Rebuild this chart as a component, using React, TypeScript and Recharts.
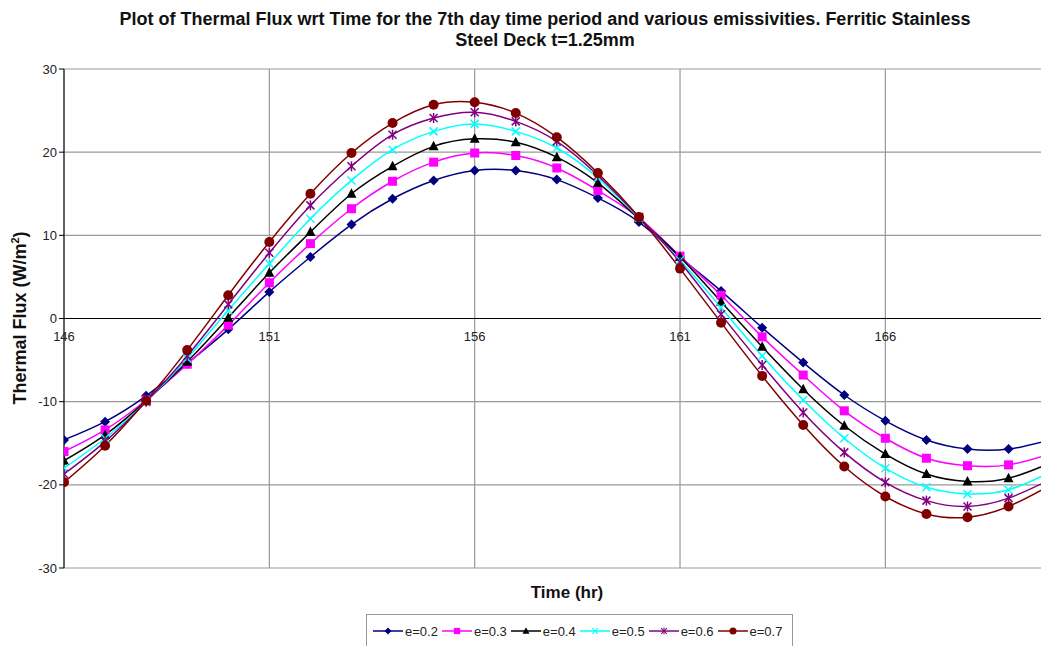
import { LineChart, Line, XAxis, YAxis, CartesianGrid, ReferenceLine } from 'recharts';

const hours = [146, 147, 148, 149, 150, 151, 152, 153, 154, 155, 156, 157, 158, 159, 160, 161, 162, 163, 164, 165, 166, 167, 168, 169, 170];

const e02 = [-14.6, -12.4, -9.3, -5.4, -1.3, 3.2, 7.4, 11.3, 14.4, 16.6, 17.8, 17.8, 16.7, 14.5, 11.6, 7.4, 3.3, -1.1, -5.3, -9.2, -12.3, -14.6, -15.7, -15.7, -14.6];
const e03 = [-16.0, -13.4, -9.8, -5.5, -0.8, 4.3, 9.0, 13.2, 16.5, 18.8, 19.9, 19.6, 18.1, 15.4, 12.1, 7.5, 2.8, -2.2, -6.8, -11.1, -14.4, -16.8, -17.7, -17.6, -16.3];
const e04 = [-17.1, -14.0, -9.9, -5.2, 0.1, 5.5, 10.4, 15.0, 18.3, 20.7, 21.6, 21.2, 19.4, 16.3, 12.0, 7.4, 2.0, -3.4, -8.5, -12.9, -16.3, -18.7, -19.6, -19.2, -17.4];
const e05 = [-18.0, -14.4, -10.0, -4.8, 1.0, 6.6, 12.0, 16.6, 20.3, 22.5, 23.4, 22.5, 20.5, 16.9, 12.1, 7.0, 1.3, -4.5, -9.8, -14.4, -18.0, -20.3, -21.1, -20.6, -18.5];
const e06 = [-18.7, -14.8, -10.0, -4.5, 1.7, 7.9, 13.6, 18.3, 22.1, 24.1, 24.8, 23.7, 21.3, 17.2, 12.2, 6.8, 0.5, -5.6, -11.3, -16.1, -19.7, -21.9, -22.6, -21.6, -19.4];
const e07 = [-19.7, -15.3, -9.9, -3.8, 2.8, 9.2, 15.0, 19.9, 23.5, 25.7, 26.0, 24.7, 21.8, 17.5, 12.2, 6.0, -0.5, -6.9, -12.8, -17.8, -21.4, -23.5, -23.9, -22.6, -20.1];

const xTicks = [146, 151, 156, 161, 166];
const yTicks = [-30, -20, -10, 0, 10, 20, 30];

const series = [
  { key: 'e02', name: 'e=0.2', color: '#000080', shape: 'diamond', values: e02 },
  { key: 'e03', name: 'e=0.3', color: '#FF00FF', shape: 'square', values: e03 },
  { key: 'e04', name: 'e=0.4', color: '#000000', shape: 'triangle', values: e04 },
  { key: 'e05', name: 'e=0.5', color: '#00FFFF', shape: 'cross', values: e05 },
  { key: 'e06', name: 'e=0.6', color: '#800080', shape: 'star', values: e06 },
  { key: 'e07', name: 'e=0.7', color: '#800000', shape: 'circle', values: e07 },
];

const data = hours.map((h, i) => {
  const row: Record<string, number> = { hour: h };
  series.forEach((s) => { row[s.key] = s.values[i]; });
  return row;
});

const FONT = 'Arial, "Liberation Sans", sans-serif';
const W = 1041;
const H = 646;
const MARGIN = { top: 69, right: 0, left: 24, bottom: 48 };
const XAXIS_H = 30;
const PLOT_H = H - MARGIN.top - MARGIN.bottom - XAXIS_H;

function Marker({ shape, color, cx, cy }: { shape: string; color: string; cx: number; cy: number }) {
  if (cx == null || cy == null || isNaN(cx) || isNaN(cy)) return null;
  switch (shape) {
    case 'diamond':
      return <polygon points={`${cx},${cy - 5} ${cx + 5},${cy} ${cx},${cy + 5} ${cx - 5},${cy}`} fill={color} />;
    case 'square':
      return <rect x={cx - 4.5} y={cy - 4.5} width={9} height={9} fill={color} />;
    case 'triangle':
      return <polygon points={`${cx},${cy - 5.5} ${cx + 5},${cy + 4} ${cx - 5},${cy + 4}`} fill={color} />;
    case 'cross':
      return (
        <g stroke={color} strokeWidth={1.5}>
          <line x1={cx - 4} y1={cy - 4} x2={cx + 4} y2={cy + 4} />
          <line x1={cx - 4} y1={cy + 4} x2={cx + 4} y2={cy - 4} />
        </g>
      );
    case 'star':
      return (
        <g stroke={color} strokeWidth={1.5}>
          <line x1={cx - 4} y1={cy - 4} x2={cx + 4} y2={cy + 4} />
          <line x1={cx - 4} y1={cy + 4} x2={cx + 4} y2={cy - 4} />
          <line x1={cx} y1={cy - 5} x2={cx} y2={cy + 5} />
        </g>
      );
    default:
      return <circle cx={cx} cy={cy} r={5} fill={color} />;
  }
}

// tick labels sit just under the zero line, not under the plot
const XTick = ({ x, payload }: any) => (
  <text x={x} y={MARGIN.top + PLOT_H / 2 + 22} textAnchor="middle" fontSize={13} fontFamily={FONT} fill="#222">
    {payload.value}
  </text>
);

const LegendBox = () => (
  <div
    style={{
      position: 'absolute',
      left: 366,
      top: 614,
      border: '1px solid #999',
      borderBottom: 'none',
      display: 'flex',
      alignItems: 'center',
      height: 32,
      padding: '0 6px',
      fontFamily: FONT,
      fontSize: 13,
      color: '#222',
      background: '#fff',
    }}
  >
    {series.map((s) => (
      <div key={s.key} style={{ display: 'flex', alignItems: 'center', marginRight: 4 }}>
        <svg width={30} height={12}>
          <line x1={0} y1={6} x2={30} y2={6} stroke={s.color} strokeWidth={1.5} />
          <g transform="translate(15,6) scale(0.7) translate(-15,-6)">
            <Marker shape={s.shape} color={s.color} cx={15} cy={6} />
          </g>
        </svg>
        <span style={{ marginLeft: 2 }}>{s.name}</span>
      </div>
    ))}
  </div>
);

export default function App() {
  return (
    <div style={{ position: 'absolute', left: 0, top: 0, width: W, height: H, background: '#fff', overflow: 'hidden' }}>
      <div
        style={{
          position: 'absolute',
          left: 0,
          width: 1090,
          top: 9,
          textAlign: 'center',
          fontFamily: FONT,
          fontWeight: 'bold',
          fontSize: 18,
          lineHeight: '21px',
          color: '#111',
        }}
      >
        Plot of Thermal Flux wrt Time for the 7th day time period and various emissivities. Ferritic Stainless
        <br />
        Steel Deck t=1.25mm
      </div>
      <div
        style={{
          position: 'absolute',
          left: 20,
          top: 318,
          transform: 'translate(-50%, -50%) rotate(-90deg)',
          whiteSpace: 'nowrap',
          fontFamily: FONT,
          fontWeight: 'bold',
          fontSize: 18,
          color: '#111',
        }}
      >
        Thermal Flux (W/m<sup style={{ fontSize: 11 }}>2</sup>)
      </div>
      <div
        style={{
          position: 'absolute',
          left: 567,
          top: 593,
          transform: 'translate(-50%, -50%)',
          fontFamily: FONT,
          fontWeight: 'bold',
          fontSize: 17,
          color: '#111',
        }}
      >
        Time (hr)
      </div>
      <LineChart width={W} height={H} data={data} margin={MARGIN}>
        <CartesianGrid stroke="#999" strokeWidth={1.2} horizontalValues={yTicks} verticalValues={xTicks} />
        <XAxis
          dataKey="hour"
          type="number"
          domain={[146, 169.79]}
          allowDataOverflow
          ticks={xTicks}
          axisLine={false}
          tickLine={false}
          tick={<XTick />}
          height={XAXIS_H}
        />
        <YAxis
          type="number"
          domain={[-30, 30]}
          ticks={yTicks}
          width={40}
          axisLine={{ stroke: '#000' }}
          tickLine={{ stroke: '#000' }}
          tickSize={5}
          tick={{ fontSize: 13, fontFamily: FONT, fill: '#222' }}
        />
        <ReferenceLine y={0} stroke="#000" strokeWidth={1.2} />
        {series.map((s) => (
          <Line
            key={s.key}
            dataKey={s.key}
            name={s.name}
            type="natural"
            stroke={s.color}
            strokeWidth={1.5}
            isAnimationActive={false}
            dot={(p: any) => <Marker key={`${s.key}-${p.index}`} shape={s.shape} color={s.color} cx={p.cx} cy={p.cy} />}
            activeDot={false}
          />
        ))}
      </LineChart>
      <LegendBox />
    </div>
  );
}
